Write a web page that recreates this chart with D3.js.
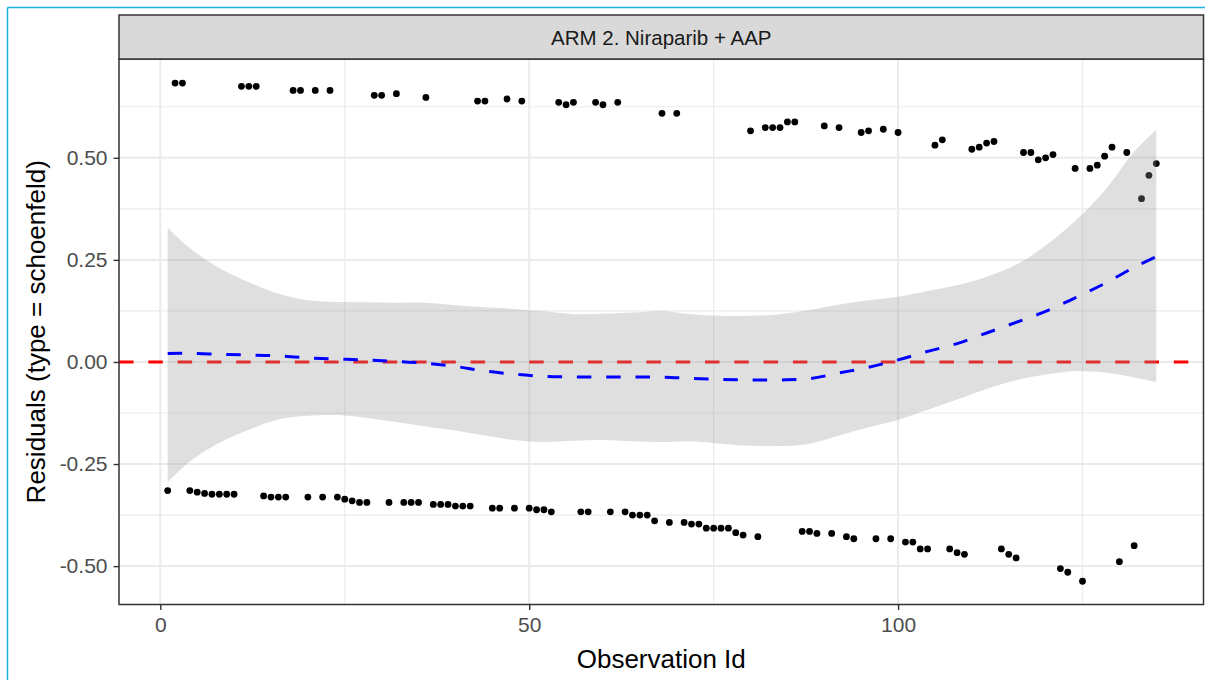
<!DOCTYPE html>
<html><head><meta charset="utf-8">
<script src="https://cdn.jsdelivr.net/npm/d3@7"></script>
<style>
body{margin:0;background:#fff;}
svg text{font-family:"Liberation Sans",Arial,sans-serif;}
</style>
</head><body>
<svg id="chart" width="1205" height="680"></svg>
<script>
// ---------- data ----------
const stripLabel = "ARM 2. Niraparib + AAP";
const xTitle = "Observation Id";
const yTitle = "Residuals (type = schoenfeld)";
const xTicks = [0, 50, 100];
const xMinor = [25, 75, 125];
const yTicks = [-0.5, -0.25, 0, 0.25, 0.5];
const yTickLabels = ["-0.50", "-0.25", "0.00", "0.25", "0.50"];
const yMinor = [-0.375, -0.125, 0.125, 0.375, 0.625];
const hlineValue = 0;

const obsId = d3.range(1, 136);
const residual = [
 -0.315, 0.683, 0.683, -0.315, -0.319, -0.322, -0.324, -0.324, -0.324, -0.324,
  0.675, 0.675, 0.675, -0.328, -0.331, -0.331, -0.331, 0.665, 0.665, -0.331,
  0.665, -0.331, 0.665, -0.331, -0.336, -0.340, -0.344, -0.344, 0.653, 0.653,
 -0.344, 0.657, -0.344, -0.344, -0.344, 0.648, -0.349, -0.349, -0.349, -0.353,
 -0.353, -0.353, 0.639, 0.639, -0.358, -0.358, 0.644, -0.358, 0.639, -0.358,
 -0.362, -0.362, -0.367, 0.636, 0.630, 0.636, -0.367, -0.367, 0.636, 0.630,
 -0.367, 0.636, -0.367, -0.375, -0.375, -0.375, -0.389, 0.609, -0.393, 0.609,
 -0.393, -0.397, -0.397, -0.407, -0.407, -0.407, -0.407, -0.418, -0.424, 0.566,
 -0.428, 0.574, 0.574, 0.574, 0.588, 0.588, -0.415, -0.415, -0.420, 0.578,
 -0.420, 0.574, -0.428, -0.433, 0.562, 0.566, -0.433, 0.570, -0.433, 0.562,
 -0.441, -0.441, -0.458, -0.458, 0.531, 0.544, -0.458, -0.467, -0.471, 0.521,
  0.526, 0.536, 0.540, -0.458, -0.471, -0.480, 0.513, 0.513, 0.495, 0.500,
  0.508, -0.506, -0.515, 0.474, -0.537, 0.474, 0.482, 0.504, 0.526, -0.489,
  0.513, -0.450, 0.400, 0.457, 0.486
];

// loess smooth (fit and confidence band) read at these ids
const smoothX = [1, 4, 8, 12, 16, 20, 24, 28, 32, 36, 40, 44, 48, 52, 56, 60, 64, 68,
  72, 76, 80, 84, 88, 92, 96, 100, 104, 108, 112, 116, 120, 124, 128, 132, 135];
const smoothFit = [0.021, 0.021, 0.019, 0.017, 0.015, 0.010, 0.007, 0.005, 0.001, -0.003,
  -0.011, -0.022, -0.030, -0.035, -0.037, -0.037, -0.037, -0.037, -0.040, -0.043,
  -0.044, -0.044, -0.041, -0.027, -0.013, 0.005, 0.026, 0.045, 0.071, 0.097,
  0.124, 0.157, 0.192, 0.232, 0.258];
const smoothUpper = [0.329, 0.279, 0.230, 0.195, 0.167, 0.151, 0.147, 0.146, 0.145, 0.145,
  0.139, 0.134, 0.130, 0.124, 0.117, 0.118, 0.121, 0.125, 0.117, 0.113,
  0.113, 0.117, 0.127, 0.141, 0.151, 0.160, 0.174, 0.188, 0.209, 0.238,
  0.285, 0.345, 0.420, 0.515, 0.569];
const smoothLower = [-0.295, -0.244, -0.198, -0.166, -0.141, -0.132, -0.130, -0.137, -0.147, -0.158,
  -0.168, -0.180, -0.191, -0.196, -0.193, -0.191, -0.194, -0.196, -0.194, -0.200,
  -0.205, -0.206, -0.200, -0.180, -0.160, -0.142, -0.117, -0.092, -0.066, -0.045,
  -0.031, -0.022, -0.026, -0.038, -0.049];

// ---------- layout ----------
const svg = d3.select("#chart");
const P = {left: 119, right: 1203.5, top: 59, bottom: 604.5};
const strip = {top: 15, bottom: 59};

const x = d3.scaleLinear().domain([-5.6, 141.4]).range([P.left, P.right]);
const y = d3.scaleLinear().domain([-0.594, 0.742]).range([P.bottom, P.top]);

// outer frame (screenshot border)
svg.append("line").attr("x1", 7.5).attr("x2", 1205).attr("y1", 7.5).attr("y2", 7.5)
  .attr("stroke", "#1daee8").attr("stroke-width", 1.5);
svg.append("line").attr("x1", 7.5).attr("x2", 7.5).attr("y1", 7.5).attr("y2", 680)
  .attr("stroke", "#1daee8").attr("stroke-width", 1.5);

const clipId = "panelclip";
svg.append("clipPath").attr("id", clipId).append("rect")
  .attr("x", P.left).attr("y", P.top).attr("width", P.right - P.left).attr("height", P.bottom - P.top);

const g = svg.append("g");
g.append("rect").attr("x", P.left).attr("y", P.top).attr("width", P.right - P.left)
  .attr("height", P.bottom - P.top).attr("fill", "#fff");

// grid
g.selectAll(".ymin").data(yMinor).join("line")
  .attr("x1", P.left).attr("x2", P.right).attr("y1", d => y(d)).attr("y2", d => y(d))
  .attr("stroke", "#ebebeb").attr("stroke-width", 1.2);
g.selectAll(".xmin").data(xMinor).join("line")
  .attr("y1", P.top).attr("y2", P.bottom).attr("x1", d => x(d)).attr("x2", d => x(d))
  .attr("stroke", "#ebebeb").attr("stroke-width", 1.2);
g.selectAll(".ymaj").data(yTicks).join("line")
  .attr("x1", P.left).attr("x2", P.right).attr("y1", d => y(d)).attr("y2", d => y(d))
  .attr("stroke", "#ebebeb").attr("stroke-width", 2);
g.selectAll(".xmaj").data(xTicks).join("line")
  .attr("y1", P.top).attr("y2", P.bottom).attr("x1", d => x(d)).attr("x2", d => x(d))
  .attr("stroke", "#ebebeb").attr("stroke-width", 2);

const plot = g.append("g").attr("clip-path", `url(#${clipId})`);

// points
plot.selectAll("circle").data(obsId).join("circle")
  .attr("cx", (d) => x(d)).attr("cy", (d, i) => y(residual[i])).attr("r", 3.4)
  .attr("fill", "#000");

// horizontal reference line
plot.append("line").attr("x1", P.left).attr("x2", P.right)
  .attr("y1", y(hlineValue)).attr("y2", y(hlineValue))
  .attr("stroke", "#ff0000").attr("stroke-width", 3).attr("stroke-dasharray", "14.5,14.8");

// ribbon
const sm = smoothX.map((v, i) => ({x: v, fit: smoothFit[i], lo: smoothLower[i], hi: smoothUpper[i]}));
plot.append("path").datum(sm)
  .attr("d", d3.area().x(d => x(d.x)).y0(d => y(d.lo)).y1(d => y(d.hi)).curve(d3.curveCatmullRom))
  .attr("fill", "#999999").attr("fill-opacity", 0.31);

// fit line
plot.append("path").datum(sm)
  .attr("d", d3.line().x(d => x(d.x)).y(d => y(d.fit)).curve(d3.curveCatmullRom))
  .attr("fill", "none").attr("stroke", "#0000ff").attr("stroke-width", 3)
  .attr("stroke-dasharray", "14.5,14.8");

// panel border
g.append("rect").attr("x", P.left).attr("y", P.top).attr("width", P.right - P.left)
  .attr("height", P.bottom - P.top).attr("fill", "none").attr("stroke", "#333").attr("stroke-width", 1.5);

// strip
g.append("rect").attr("x", P.left).attr("y", strip.top).attr("width", P.right - P.left)
  .attr("height", strip.bottom - strip.top).attr("fill", "#d9d9d9").attr("stroke", "#333").attr("stroke-width", 1.5);
g.append("text").attr("x", (P.left + P.right) / 2).attr("y", (strip.top + strip.bottom) / 2)
  .attr("text-anchor", "middle").attr("dominant-baseline", "central")
  .attr("font-size", 20.5).attr("fill", "#1a1a1a").text(stripLabel);

// axes
const xAxis = d3.axisBottom(x).tickValues(xTicks).tickSize(5.5).tickPadding(7).tickFormat(d3.format("d"));
const gx = svg.append("g").attr("transform", `translate(0,${P.bottom})`).call(xAxis);
gx.select(".domain").remove();
gx.selectAll(".tick line").attr("stroke", "#333").attr("stroke-width", 1.4);
gx.selectAll(".tick text").attr("font-size", 21).attr("fill", "#4d4d4d")
  .attr("font-family", "Liberation Sans, Arial, sans-serif");

const yAxis = d3.axisLeft(y).tickValues(yTicks).tickSize(5.5).tickPadding(6)
  .tickFormat((d, i) => yTickLabels[i]);
const gy = svg.append("g").attr("transform", `translate(${P.left},0)`).call(yAxis);
gy.select(".domain").remove();
gy.selectAll(".tick line").attr("stroke", "#333").attr("stroke-width", 1.4);
gy.selectAll(".tick text").attr("font-size", 21).attr("fill", "#4d4d4d")
  .attr("font-family", "Liberation Sans, Arial, sans-serif");

// titles
svg.append("text").attr("x", (P.left + P.right) / 2).attr("y", 668)
  .attr("text-anchor", "middle").attr("font-size", 26).attr("fill", "#000").text(xTitle);
svg.append("text").attr("transform", `translate(45,${(P.top + P.bottom) / 2}) rotate(-90)`)
  .attr("text-anchor", "middle").attr("font-size", 26).attr("fill", "#000").text(yTitle);
</script>
</body></html>
